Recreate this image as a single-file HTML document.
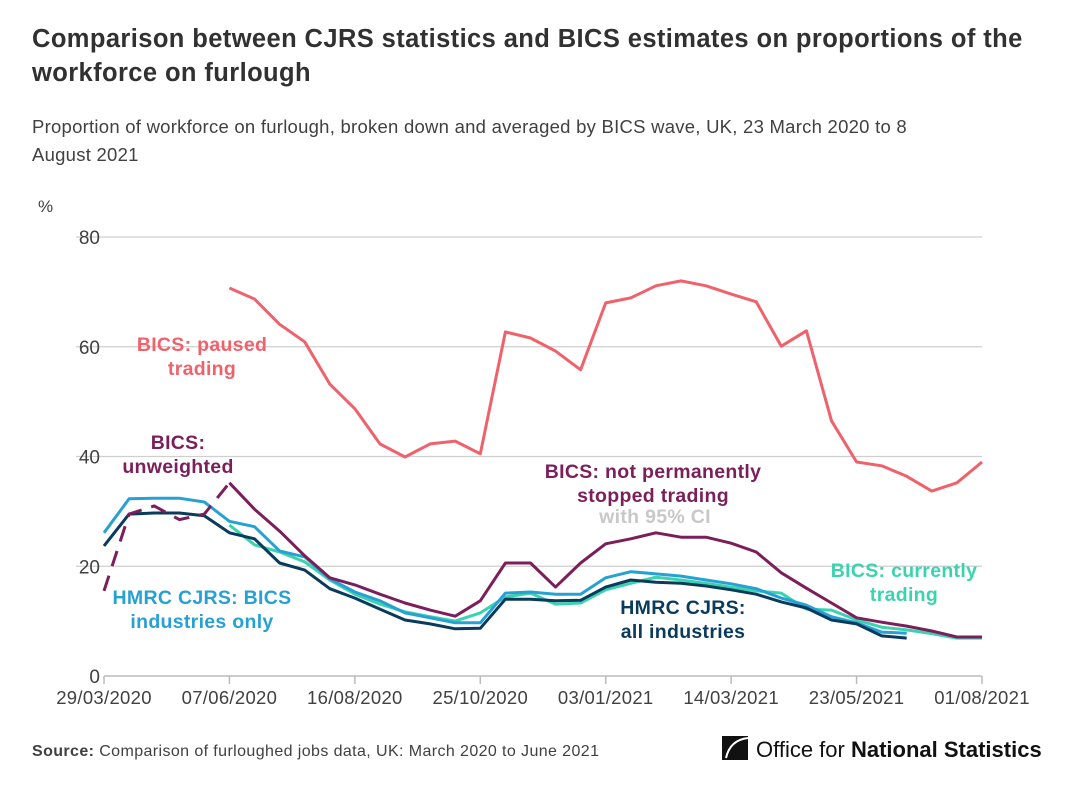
<!DOCTYPE html>
<html><head><meta charset="utf-8"><style>
body{margin:0;background:#fff;width:1072px;height:789px;overflow:hidden;font-family:"Liberation Sans",sans-serif;color:#222}
.t{position:absolute;left:32px;top:22px;font-size:25.5px;letter-spacing:0.4px;font-weight:bold;color:#323132;line-height:34px;width:1030px}
.s{position:absolute;left:32px;top:113px;font-size:18.5px;letter-spacing:0.25px;color:#414042;line-height:28px;width:1030px}
svg{position:absolute;left:0;top:0}
</style></head><body>
<div class="t">Comparison between CJRS statistics and BICS estimates on proportions of the<br>workforce on furlough</div>
<div class="s">Proportion of workforce on furlough, broken down and averaged by BICS wave, UK, 23 March 2020 to 8<br>August 2021</div>
<svg id="c" width="1072" height="789"></svg>
<script>
const yTicks=[0,20,40,60,80];
const xTickLabels=["29/03/2020","07/06/2020","16/08/2020","25/10/2020","03/01/2021","14/03/2021","23/05/2021","01/08/2021"];
const pausedStart=5;
const paused=[70.7,68.7,64.1,60.9,53.2,48.7,42.3,39.9,42.3,42.8,40.5,62.7,61.6,59.2,55.8,68.0,68.9,71.1,72.0,71.1,69.6,68.2,60.1,62.9,46.5,39.0,38.3,36.4,33.7,35.2,39.0];
const unweighted=[15.5,29.5,31.0,28.5,29.5,35.2];
const notStoppedStart=5;
const notStopped=[35.2,30.4,26.4,21.9,17.9,16.6,14.9,13.3,12.0,10.9,13.7,20.6,20.6,16.2,20.6,24.1,25.0,26.1,25.3,25.3,24.2,22.6,18.8,16.0,13.3,10.6,9.8,9.1,8.2,7.1,7.1];
const currentStart=5;
const currentTrading=[27.5,23.9,22.6,20.8,17.5,14.9,13.1,11.7,10.8,10.0,11.5,14.4,15.1,13.1,13.3,15.7,16.9,18.0,17.5,16.9,16.2,15.5,15.1,12.2,12.0,10.2,8.9,8.4,7.7,6.9,6.9];
const hmrcBics=[26.1,32.3,32.4,32.4,31.7,28.2,27.2,22.8,21.7,17.7,15.3,13.7,11.5,10.6,9.7,9.7,15.1,15.3,14.9,14.9,17.9,19.0,18.6,18.2,17.5,16.8,15.9,14.2,12.9,10.8,9.7,8.0,7.8];
const hmrcAll=[23.7,29.5,29.7,29.7,29.2,26.1,25.0,20.6,19.3,15.9,14.2,12.2,10.2,9.5,8.6,8.7,14.0,14.0,13.7,13.8,16.2,17.5,17.1,16.9,16.4,15.7,14.9,13.5,12.4,10.2,9.5,7.3,6.9];
const X0=104,X1=982,Y0=676,Y80=237;
const x=i=>X0+(X1-X0)*i/35;
const y=v=>Y0-(Y0-Y80)*v/80;
const svg=document.getElementById('c');const NS='http://www.w3.org/2000/svg';
function el(t,a,txt){const e=document.createElementNS(NS,t);for(const k in a)e.setAttribute(k,a[k]);if(txt!=null)e.textContent=txt;svg.appendChild(e);return e;}
const F='"Liberation Sans",sans-serif';
yTicks.forEach(v=>{
 if(v>0){const g=el('line',{x1:76,x2:X1,y1:y(v),y2:y(v),stroke:'#cfcfcf','stroke-width':1.3});
 
 }
 const t=el('text',{x:100,y:y(v)+7,'text-anchor':'end','font-size':19,fill:'#414042','font-family':F},v);
 
 
});
const yu=el('text',{x:38,y:212,'font-size':17,fill:'#414042','font-family':F},'%');


const ax=el('line',{x1:X0,x2:X1,y1:Y0,y2:Y0,stroke:'#bbb','stroke-width':1.5});


xTickLabels.forEach((l,k)=>{const xx=x(k*5);
 const tk=el('line',{x1:xx,x2:xx,y1:Y0,y2:Y0+8,stroke:'#bbb','stroke-width':1.5});
 
 
 const t=el('text',{x:xx,y:Y0+28,'text-anchor':'middle','font-size':18.5,'letter-spacing':0.3,fill:'#414042','font-family':F},l);
 
 });
function line(arr,start,color,name,dash){
 const d=arr.map((v,i)=>(i?'L':'M')+x(start+i).toFixed(1)+','+y(v).toFixed(1)).join('');
 const p=el('path',{d:d,fill:'none',stroke:color,'stroke-width':3,'stroke-linejoin':'round'});
 if(dash)p.setAttribute('stroke-dasharray',dash);
 
 }
line(paused,pausedStart,'#f0626b','line-paused-trading');
line(currentTrading,currentStart,'#3ad3b0','line-currently-trading');
line(hmrcBics,0,'#27a1d3','line-hmrc-bics-industries');
line(hmrcAll,0,'#0a3a5c','line-hmrc-all-industries');
line(unweighted,0,'#7b1f5a','line-bics-unweighted','16,10');
line(notStopped,notStoppedStart,'#7b1f5a','line-not-permanently-stopped');
function lab(lines,xx,yy,color,name){lines.forEach((s,i)=>{const t=el('text',{x:xx,y:yy+i*24,'text-anchor':'middle','font-size':19.5,'letter-spacing':0.3,'font-weight':'bold',fill:color,'font-family':F},s);
 
 });}
lab(['BICS: paused','trading'],202,351,'#f0626b','label-paused-trading');
lab(['BICS:','unweighted'],178,449,'#7b1f5a','label-unweighted');
lab(['BICS: not permanently','stopped trading'],653,478,'#7b1f5a','label-not-permanently-stopped');
lab(['with 95% CI'],655,523,'#c8c8c8','label-ci');
lab(['HMRC CJRS: BICS','industries only'],202,604,'#27a1d3','label-hmrc-bics');
lab(['HMRC CJRS:','all industries'],683,614,'#0a3a5c','label-hmrc-all');
lab(['BICS: currently','trading'],904,577,'#3ad3b0','label-currently-trading');
const src=el('text',{x:32,y:756,'font-size':16,'letter-spacing':0.4,fill:'#414042','font-family':F});


src.innerHTML='<tspan font-weight="bold">Source:</tspan> Comparison of furloughed jobs data, UK: March 2020 to June 2021';
const lg=el('path',{d:'M722,736 h26 v24 h-26 z',fill:'#111'});


const lc=el('path',{d:'M748,738 Q730,740 726,758',fill:'none',stroke:'#fff','stroke-width':2});


const lt=el('text',{x:756,y:757,'font-size':22,fill:'#111','font-family':F});


lt.innerHTML='Office for <tspan font-weight="bold">National Statistics</tspan>';
</script>
</body></html>
